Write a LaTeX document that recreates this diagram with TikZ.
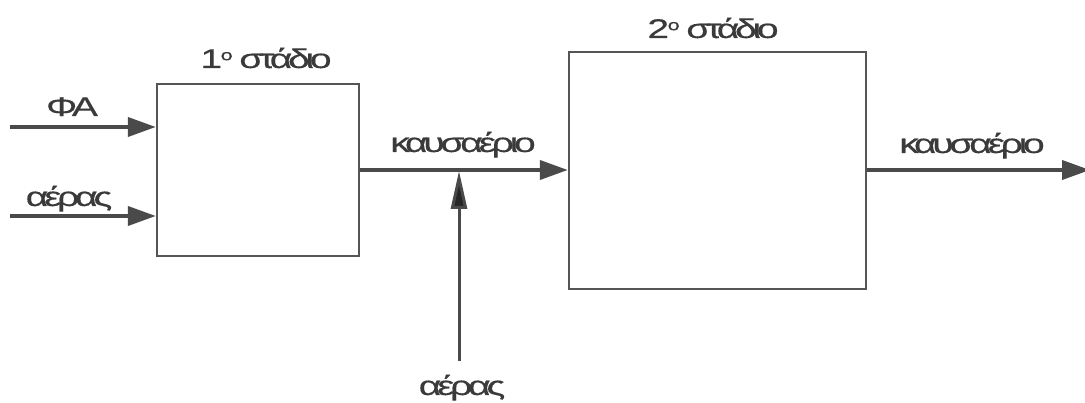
\documentclass[tikz,border=0pt]{standalone}
\usepackage{fontspec}
\setmainfont{Liberation Sans}[FakeStretch=1.45,LetterSpace=-16,FakeBold=0.4]
\usetikzlibrary{arrows.meta}
\definecolor{linegray}{HTML}{4A4A4A}
\definecolor{boxgray}{HTML}{555555}
\definecolor{txtgray}{HTML}{3A3A3A}
\newcommand{\ordo}{\kern-1.5pt\raisebox{0.55ex}{\fontsize{15}{15}\selectfont ο}}
\begin{document}
\begin{tikzpicture}[x=1pt,y=-1pt,
  stagebox/.style={draw=boxgray,line width=2.3pt,inner sep=0pt},
  flow/.style={draw=linegray,line width=3.8pt,
    -{Triangle[length=28pt,width=19pt]}},
  lbl/.style={text=txtgray,font=\fontsize{27}{29}\selectfont,inner sep=0pt,anchor=base}]
\useasboundingbox (0,0) rectangle (1085,403);
% stages
\node[stagebox,minimum width=202pt,minimum height=172pt] (s1) at (258,170) {};
\node[stagebox,minimum width=297pt,minimum height=237pt] (s2) at (717.5,170.5) {};
\node[lbl] (t1) at (266,68) {1\ordo{} στάδιο};
\node[lbl] (t2) at (713,38) {2\ordo{} στάδιο};
% inputs
\coordinate (fa) at (10,127);
\coordinate (air1) at (10,216);
\draw[flow] (fa) -- (fa -| s1.west);
\draw[flow] (air1) -- (air1 -| s1.west);
\node[lbl] (lfa) at (72,116) {ΦΑ};
\node[lbl] (lair1) at (69,206) {αέρας};
% flue gas between stages
\draw[flow] (s1.east |- 0,170) -- (s2.west |- 0,170);
\node[lbl] (lgas1) at (463,152) {καυσαέριο};
% secondary air
\coordinate (air2) at (459,361);
\coordinate (mix) at (459,171);
\draw[draw=linegray,line width=3pt,
  -{Triangle[length=38pt,width=16pt,fill=black!85,color=linegray]}] (air2) -- (mix);
\node[lbl] (lair2) at (462,395) {αέρας};
% output
\coordinate (out) at (1090,170);
\draw[flow] (s2.east |- 0,170) -- (out);
\node[lbl] (lgas2) at (972,153) {καυσαέριο};
\end{tikzpicture}
\end{document}
